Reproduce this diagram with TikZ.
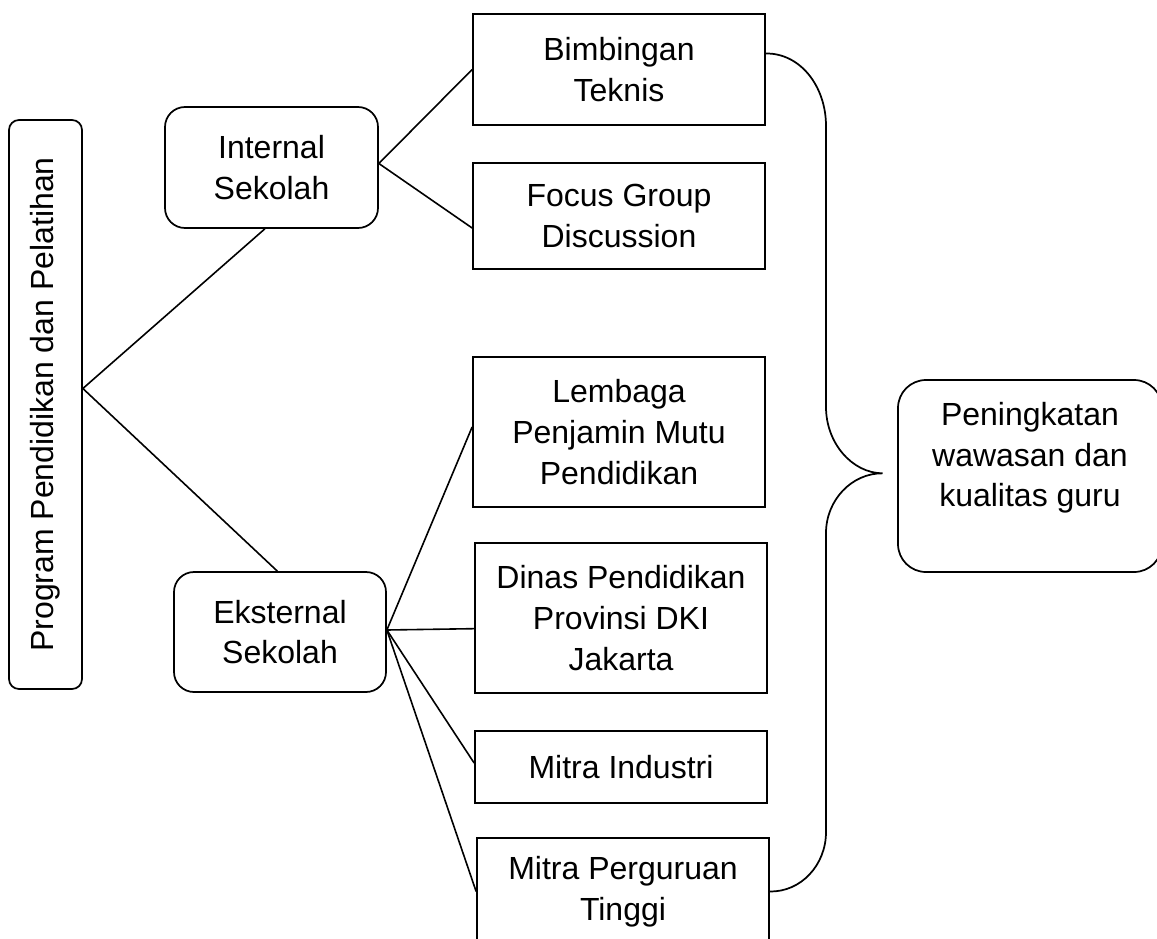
\documentclass[tikz,border=0pt]{standalone}
\usepackage{fontspec}
\setmainfont{Liberation Sans}
\begin{document}
\begin{tikzpicture}[x=0.75pt,y=-0.75pt,line width=1.3pt,
  every node/.style={font=\fontsize{24}{30.5}\selectfont, align=center, inner sep=0pt},
  rbox/.style={draw, rectangle, rounded corners=15pt},
  sbox/.style={draw, rectangle, minimum width=219pt},
  link/.style={line width=1.2pt},
  bracepath/.style={line width=1.3pt}]
\useasboundingbox (0,0) rectangle (1157,939);
\clip (0,0) rectangle (1157,939);

% left vertical box
\node[rbox, rounded corners=7.5pt, rotate=90, minimum width=426.75pt, minimum height=54.75pt] (prog) at (45.5,404.5) {Program Pendidikan dan Pelatihan};

% second level
\node[rbox, minimum width=159.75pt, minimum height=90.75pt] (int) at (271.5,167.5) {Internal\\Sekolah};
\node[rbox, minimum width=159pt, minimum height=90pt] (ext) at (280,632) {Eksternal\\Sekolah};

% third level
\node[sbox, minimum height=83.25pt] (bim) at (619,69.5) {Bimbingan\\Teknis};
\node[sbox, minimum height=79.5pt] (fgd) at (619,216) {Focus Group\\Discussion};
\node[sbox, minimum height=112.5pt] (lpm) at (619,432) {Lembaga\\Penjamin Mutu\\Pendidikan};
\node[sbox, minimum height=112.5pt] (dinas) at (621,618) {Dinas Pendidikan\\Provinsi DKI\\Jakarta};
\node[sbox, minimum height=54pt] (mi) at (621,767) {Mitra Industri};
\node[sbox, minimum height=80.25pt] (mpt) at (623,891.5) {Mitra Perguruan\\Tinggi};

% result box
\node[rbox, rounded corners=21pt, minimum width=198pt, minimum height=144pt] (pen) at (1030,476) {};
\node (pentext) at (1030,458) {Peningkatan\\wawasan dan\\kualitas guru};

% connectors
\draw[link] ([xshift=-5pt]int.south) -- ([yshift=12pt]prog.south) -- ([xshift=-2pt]ext.north);
\draw[link] (bim.west) -- ([yshift=3pt]int.east) -- ([yshift=-9pt]fgd.west);
\draw[link] ([yshift=3.75pt]lpm.west) -- ([yshift=1.5pt]ext.east) -- ([yshift=-8pt]dinas.west);
\draw[link] ([yshift=1.5pt]ext.east) -- ([yshift=3pt]mi.west);
\draw[link] ([yshift=1.5pt]ext.east) -- (mpt.west);

% brace
\coordinate (bracetop) at ([yshift=12pt]bim.east);
\coordinate (bracebot) at (mpt.east);
\coordinate (bracetip) at ([xshift=-11pt,yshift=2pt]pen.west);
\draw[bracepath] (bracetop) .. controls (800,53) and (826,86) .. (826,126)
  -- (826,407) .. controls (826,443) and (852,473) .. (bracetip)
  .. controls (852,473) and (826,500) .. (826,533)
  -- (826,832) .. controls (826,865) and (801,892) .. (bracebot);
\end{tikzpicture}
\end{document}
